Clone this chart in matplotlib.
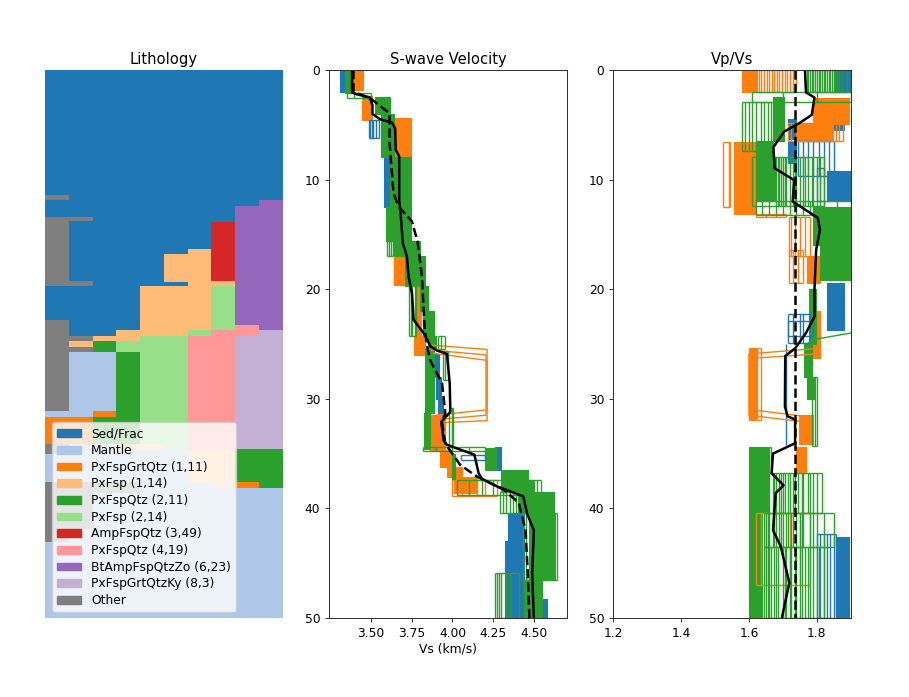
import matplotlib
matplotlib.use("Agg")
import matplotlib.pyplot as plt
from matplotlib.patches import Patch

BLUE, ORANGE, GREEN = "#1f77b4", "#ff7f0e", "#2ca02c"

class_labels = ["Sed/Frac", "Mantle", "PxFspGrtQtz (1,11)", "PxFsp (1,14)", "PxFspQtz (2,11)",
                "PxFsp (2,14)", "AmpFspQtz (3,49)", "PxFspQtz (4,19)", "BtAmpFspQtzZo (6,23)",
                "PxFspGrtQtzKy (8,3)", "Other"]
class_colors = ["#1f77b4", "#aec7e8", "#ff7f0e", "#ffbb78", "#2ca02c", "#98df8a", "#d62728",
                "#ff9896", "#9467bd", "#c5b0d5", "#7f7f7f"]
S, M, O, LO, G, LG, R, P, V, L, X = range(11)

# lithology columns: bottom depth of each unit and its class
col0_bot = [11.4, 11.9, 13.4, 19.7, 22.8, 31.1, 31.7, 34.15, 35.07, 37.56, 43.05, 50]
col0_cls = [S, X, S, X, S, X, M, O, X, M, X, M]
col1_bot = [13.4, 13.8, 19.3, 19.7, 24.3, 24.7, 25.3, 25.75, 31.7, 34.15, 37.56, 41.9, 50]
col1_cls = [S, X, S, X, S, X, LO, X, M, O, M, X, M]
col2_bot = [24.3, 24.7, 25.75, 31.1, 31.7, 34.15, 37.56, 38.6, 50]
col2_cls = [S, LO, G, M, O, G, M, X, M]
col3_bot = [23.76, 24.7, 25.7, 34.15, 34.6, 37.56, 38.6, 50]
col3_cls = [S, LO, LG, G, LO, M, X, M]
col4_bot = [19.7, 24.3, 34.15, 34.6, 50]
col4_cls = [S, LO, LG, LO, M]
col5_bot = [16.8, 19.35, 19.7, 24.3, 34.6, 50]
col5_cls = [S, LO, S, LO, LG, M]
col6_bot = [16.3, 23.76, 24.3, 34.6, 37.56, 50]
col6_cls = [S, LO, LG, P, LO, M]
col7_bot = [13.85, 19.3, 19.7, 23.76, 34.6, 38.15, 50]
col7_cls = [S, R, LO, LG, P, LO, M]
col8_bot = [12.4, 23.25, 24.3, 34.6, 37.56, 38.15, 50]
col8_cls = [S, V, P, L, G, O, M]
col9_bot = [11.9, 23.76, 34.6, 38.15, 50]
col9_cls = [S, V, L, G, M]
columns = [(col0_bot, col0_cls), (col1_bot, col1_cls), (col2_bot, col2_cls), (col3_bot, col3_cls),
           (col4_bot, col4_cls), (col5_bot, col5_cls), (col6_bot, col6_cls), (col7_bot, col7_cls),
           (col8_bot, col8_cls), (col9_bot, col9_cls)]

# median and reference profiles
vs_med_depth = [0, 2.04, 2.22, 2.49, 3.19, 4.01, 4.5, 4.8, 5.32, 7.3, 7.9, 11.85, 13.4, 15.8, 17.0, 18.85,
                20.4, 22.8, 24.2, 25.2, 25.6, 25.9, 28.6, 31.2, 31.7, 32.1, 33.8, 34.2, 35.1, 36.8, 37.3,
                38.0, 38.9, 40.5, 42.0, 45.9, 50]
vs_med = [3.385, 3.385, 3.414, 3.492, 3.51, 3.51, 3.557, 3.629, 3.649, 3.653, 3.674, 3.674, 3.684, 3.696,
          3.721, 3.731, 3.752, 3.762, 3.833, 3.864, 3.905, 3.966, 3.983, 3.987, 3.956, 3.931, 3.946, 3.966,
          4.134, 4.16, 4.18, 4.273, 4.433, 4.457, 4.498, 4.488, 4.498]
vs_ref_depth = [0, 2.0, 2.58, 3.95, 6.7, 11.25, 12.46, 13.83, 15.65, 18.85, 23.4, 25.2, 26.5, 28.6, 31.3,
                32.1, 34.1, 36.05, 37.1, 38.3, 39.5, 42, 45.9, 50]
vs_ref = [3.394, 3.394, 3.496, 3.615, 3.615, 3.639, 3.67, 3.752, 3.786, 3.813, 3.829, 3.844, 3.864, 3.936,
          3.956, 3.936, 3.956, 4.048, 4.15, 4.314, 4.406, 4.447, 4.461, 4.471]
vr_med_depth = [0, 2.04, 2.52, 4.1, 4.86, 5.62, 7.05, 8.97, 9.97, 10.1, 12.0, 13.5, 14.6, 16.4, 20.06, 22.5,
                24.0, 25.4, 26.1, 30.7, 31.6, 31.9, 34.06, 35.0, 36.8, 37.9, 38.6, 42.0, 43.5, 46.8, 50]
vr_med = [1.765, 1.768, 1.793, 1.785, 1.748, 1.704, 1.672, 1.676, 1.729, 1.733, 1.729, 1.803, 1.809, 1.798,
          1.793, 1.793, 1.768, 1.736, 1.707, 1.706, 1.714, 1.736, 1.736, 1.671, 1.667, 1.702, 1.679, 1.671,
          1.694, 1.719, 1.697]
vr_ref_depth = [0, 50]
vr_ref = [1.735, 1.735]

# solid ensemble bands: top depth, bottom depth, low value, high value
vs_blue_bands = [(0, 2.0, 3.31, 3.38), (7.9, 12.5, 3.578, 3.62), (25.9, 28, 3.884, 3.915), (28, 30, 3.9, 3.93),
                 (30, 31.6, 3.91, 3.94), (34.4, 36.5, 4.263, 4.298), (40.4, 43, 4.34, 4.44), (43, 50, 4.32, 4.44),
                 (48.3, 50, 4.54, 4.58)]
vs_orange_bands = [(0, 1.8, 3.39, 3.45), (2.4, 4.6, 3.445, 3.51), (4.4, 7.9, 3.645, 3.745),
                   (17, 19.6, 3.645, 3.73), (19.7, 24.3, 3.782, 3.81), (24.3, 26, 3.762, 3.833),
                   (31.5, 34.7, 3.86, 3.956), (34.7, 36.2, 3.925, 3.997), (36.2, 37.1, 3.966, 4.058),
                   (37.1, 38.6, 4.007, 4.15)]
vs_green_bands = [(0, 2.1, 3.34, 3.39), (2.5, 4, 3.527, 3.619), (4, 7.9, 3.563, 3.639), (7.9, 12.5, 3.62, 3.745),
                  (12.5, 15.65, 3.594, 3.745), (15.65, 17, 3.64, 3.8), (17, 19.7, 3.71, 3.833),
                  (19.7, 22, 3.8, 3.85), (22, 24.3, 3.82, 3.885), (24.3, 25.5, 3.85, 3.9), (25.5, 31.3, 3.833, 3.884),
                  (31.3, 34.6, 3.823, 3.86), (34.5, 36.5, 4.2, 4.265), (35.0, 37.4, 3.997, 4.017),
                  (36.5, 37.4, 4.3, 4.46), (37.4, 38.5, 4.3, 4.5), (38.5, 40.4, 4.4, 4.62), (40.4, 46.5, 4.47, 4.63),
                  (46.5, 50, 4.44, 4.55)]
# loose ensemble members: top depth, bottom depth, values
vs_blue_loose = [(4.6, 6.2, [3.486, 3.495, 3.505, 3.515, 3.53, 3.55]), (35.1, 35.6, [4.05, 4.2])]
vs_orange_loose = [(37.4, 38.9, [4.0, 4.03, 4.06, 4.1, 4.15, 4.2, 4.27]), (17, 19.6, [3.64])]
vs_green_loose = [(2.1, 2.6, [3.357, 3.4, 3.45, 3.5]), (15.6, 17, [3.598, 3.61, 3.625, 3.635]),
                  (19.7, 24.3, [3.735, 3.745, 3.755, 3.768, 3.778]), (24.3, 25.5, [3.91, 3.93, 3.955]),
                  (25.6, 28.3, [3.94, 3.955, 3.97]), (30.8, 34.4, [3.98, 4.0, 4.005]),
                  (34.4, 34.8, [3.82, 3.9, 4.0, 4.1, 4.2]), (37.4, 38.8, [4.03, 4.1, 4.18, 4.25, 4.52, 4.54]),
                  (38.5, 40.4, [4.29, 4.31, 4.33, 4.35, 4.37, 4.39]), (40.4, 46.5, [4.43, 4.45, 4.64]),
                  (45.9, 50, [4.26, 4.27, 4.285, 4.3, 4.33, 4.355, 4.41])]
# full step members
vs_orange_members = [([25.1, 25.5, 31.0, 31.5], [3.864, 4.212, 4.212, 3.9]),
                     ([25.55, 26.0, 31.5, 31.9], [3.864, 4.205, 4.205, 3.9]),
                     ([25.85, 26.5, 32.0, 32.2], [3.884, 4.212, 4.212, 3.9])]

vr_blue_bands = [(0, 2, 1.85, 1.9), (4.5, 6.3, 1.714, 1.738), (4.9, 5.5, 1.85, 1.88), (6.6, 8.5, 1.714, 1.738),
                 (9.2, 12, 1.83, 1.9), (19.4, 23.7, 1.83, 1.881), (42.6, 50, 1.86, 1.895)]
vr_orange_bands = [(0, 2, 1.579, 1.625), (2.6, 4.9, 1.79, 1.896), (4.9, 6.5, 1.738, 1.847), (6.6, 13.1, 1.556, 1.62),
                   (25.4, 31.9, 1.6, 1.62), (31.5, 34.1, 1.748, 1.788), (34.4, 36.8, 1.738, 1.768),
                   (17, 19.4, 1.77, 1.81), (22, 25.5, 1.788, 1.808), (47, 50, 1.6, 1.625), (25.4, 26.3, 1.785, 1.808)]
vr_green_bands = [(2.5, 6.5, 1.67, 1.704), (6.5, 7.9, 1.62, 1.67), (7.9, 12, 1.62, 1.68),
                  (12.5, 16, 1.79, 1.9), (16, 19.2, 1.81, 1.9), (20, 25, 1.778, 1.798), (24.9, 28, 1.762, 1.785),
                  (28, 30, 1.772, 1.793), (34.4, 40.4, 1.6, 1.655), (40.4, 50, 1.6, 1.64)]
vr_blue_loose = [(6.5, 9.7, [1.745, 1.76, 1.775, 1.79, 1.805, 1.82, 1.835, 1.85]),
                 (22.3, 24.9, [1.714, 1.73, 1.75, 1.76, 1.78]), (22.9, 24.3, [1.714, 1.79]), (25.0, 34.2, [1.71]),
                 (42.3, 50, [1.8, 1.81, 1.82, 1.83, 1.84, 1.85, 1.855]),
                 (8.9, 12, [1.8, 1.81, 1.82])]
vr_orange_loose = [(0, 2, [1.63, 1.637, 1.645, 1.652, 1.66, 1.667, 1.675, 1.682, 1.69, 1.697, 1.705, 1.712, 1.72, 1.73,
                           1.74]), (6.6, 12.5, [1.523, 1.54, 1.545]),
                   (4.86, 6.5, [1.714, 1.725, 1.855, 1.865, 1.877]), (13.4, 17, [1.719, 1.725, 1.735, 1.75, 1.765, 1.78]),
                   (16.4, 19.45, [1.717, 1.73, 1.745, 1.76]), (13.1, 13.4, [1.62, 1.65, 1.68, 1.71]),
                   (25.4, 31.9, [1.625, 1.635]), (40.4, 47, [1.62, 1.635, 1.65, 1.72, 1.75, 1.78])]
vr_green_loose = [(0, 2, [1.77, 1.775, 1.78, 1.785, 1.79, 1.795, 1.8, 1.805, 1.81, 1.815, 1.82, 1.825, 1.83, 1.835, 1.84,
                          1.845, 1.85, 1.855, 1.86, 1.865, 1.875, 1.89]),
                  (2, 2.9, [1.61, 1.7, 1.8, 1.9]), (2.9, 7.4, [1.579, 1.59, 1.6, 1.61, 1.62, 1.635, 1.645, 1.655, 1.665]),
                  (7.9, 12.4, [1.608, 1.685, 1.69, 1.695, 1.7, 1.705, 1.71, 1.72, 1.73, 1.735, 1.74, 1.75, 1.76, 1.765,
                               1.775, 1.785, 1.79, 1.8, 1.81, 1.82]),
                  (12, 13.2, [1.62, 1.64, 1.66, 1.68, 1.7, 1.72, 1.74, 1.76, 1.78, 1.82, 1.86, 1.9]),
                  (28, 34.3, [1.785, 1.795, 1.8]), (34.4, 36.8, [1.66, 1.665]),
                  (36.8, 40.4, [1.66, 1.67, 1.675, 1.68, 1.69, 1.695, 1.7, 1.705, 1.715, 1.72, 1.73, 1.735, 1.745, 1.755,
                                1.76, 1.775, 1.78, 1.79, 1.8, 1.815]),
                  (40.4, 43.5, [1.645, 1.65, 1.655, 1.66, 1.67, 1.675, 1.68, 1.69, 1.695, 1.7, 1.71, 1.715, 1.725, 1.73,
                                1.74, 1.75, 1.755, 1.76, 1.78, 1.79, 1.8, 1.82, 1.85]),
                  (43.5, 50, [1.645, 1.65, 1.655, 1.66, 1.665, 1.675, 1.68, 1.685, 1.7, 1.705, 1.71, 1.72, 1.725, 1.735,
                              1.74, 1.75, 1.755, 1.765, 1.775, 1.78, 1.79, 1.8, 1.805, 1.82])]
vr_orange_members = [([25.4, 25.9, 31.5, 32.1], [1.808, 1.6, 1.6, 1.76]),
                     ([25.9, 26.3, 31.0, 31.6], [1.808, 1.61, 1.61, 1.76])]
vr_green_members = [([24.0, 24.6, 25], [1.9, 1.79, 1.77])]


def draw_ensemble(ax, color, bands, loose, members=()):
    for top, bottom, low, high in bands:
        ax.fill_betweenx([top, bottom], low, high, color=color, lw=0.8)
    for top, bottom, values in loose:
        ax.vlines(values, top, bottom, color=color, lw=1)
        ax.hlines([top, bottom], min(values), max(values), color=color, lw=1)
    for depth, values in members:
        ax.plot(values, depth, color=color, lw=1)


def draw_profiles(ax, value, depth, ref, ref_depth):
    ax.plot(ref, ref_depth, color="k", ls="--", lw=1.8)
    ax.plot(value, depth, color="k", lw=1.8)


fig, axes = plt.subplots(1, 3, figsize=(9.09, 6.97), dpi=100)
fig.subplots_adjust(left=0.0495, right=0.936, top=0.8996, bottom=0.1134, wspace=0.194)
ax0, ax1, ax2 = axes

for i, (bots, clss) in enumerate(columns):
    top = 0
    for bot, cls in zip(bots, clss):
        ax0.bar(i, bot - top, bottom=top, width=1, color=class_colors[cls], lw=0)
        top = bot
ax0.set_xlim(-0.5, 9.5)
ax0.set_ylim(50, 0)
ax0.axis("off")
ax0.set_title("Lithology", fontsize=10.6, pad=4)
ax0.legend(handles=[Patch(color=c, label=t) for c, t in zip(class_colors, class_labels)],
           fontsize=8.8, loc="lower left", bbox_to_anchor=(0.03, 0.011), borderaxespad=0,
           labelspacing=0.3, handlelength=2.0, handleheight=0.6, framealpha=0.8)

draw_ensemble(ax1, BLUE, vs_blue_bands, vs_blue_loose)
draw_ensemble(ax1, ORANGE, vs_orange_bands, vs_orange_loose, vs_orange_members)
draw_ensemble(ax1, GREEN, vs_green_bands, vs_green_loose)
draw_profiles(ax1, vs_med, vs_med_depth, vs_ref, vs_ref_depth)
ax1.set_xlim(3.244, 4.70)
ax1.set_ylim(50, 0)
ax1.set_xticks([3.5, 3.75, 4.0, 4.25, 4.5], ["3.50", "3.75", "4.00", "4.25", "4.50"])
ax1.set_xlabel("Vs (km/s)", fontsize=8.8, labelpad=2)
ax1.set_title("S-wave Velocity", fontsize=10.6, pad=4)

draw_ensemble(ax2, BLUE, vr_blue_bands, vr_blue_loose)
draw_ensemble(ax2, ORANGE, vr_orange_bands, vr_orange_loose, vr_orange_members)
draw_ensemble(ax2, GREEN, vr_green_bands, vr_green_loose, vr_green_members)
draw_profiles(ax2, vr_med, vr_med_depth, vr_ref, vr_ref_depth)
ax2.set_xlim(1.2, 1.9)
ax2.set_ylim(50, 0)
ax2.set_xticks([1.2, 1.4, 1.6, 1.8])
ax2.set_title("Vp/Vs", fontsize=10.6, pad=4)

for ax in (ax1, ax2):
    ax.tick_params(labelsize=8.8, length=3.2, width=0.7, color="#333333", pad=3)
    for spine in ax.spines.values():
        spine.set_linewidth(0.75)
        spine.set_color("#333333")

fig.savefig("out.png", dpi=100)
